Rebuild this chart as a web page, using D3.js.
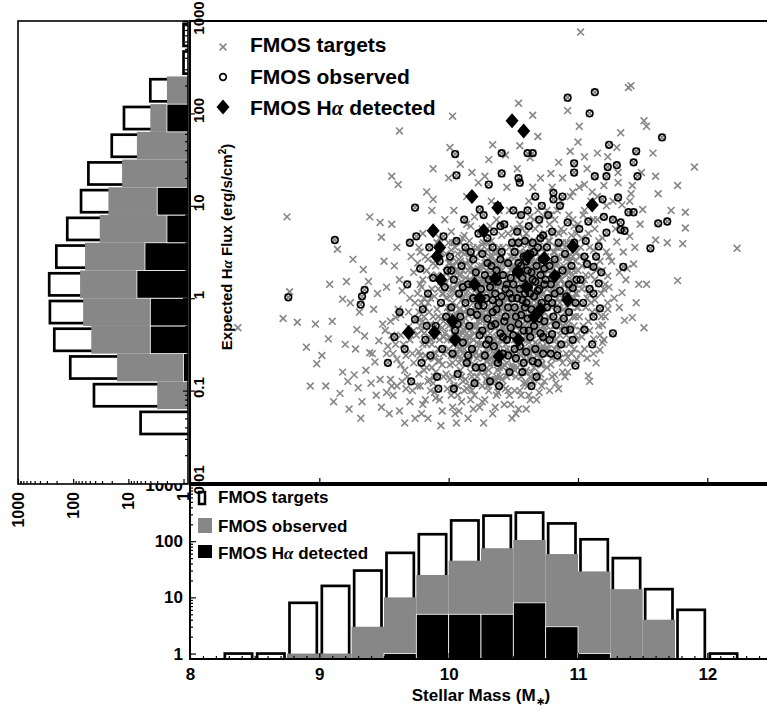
<!DOCTYPE html>
<html>
<head>
<meta charset="utf-8">
<script src="https://cdn.jsdelivr.net/npm/d3@7"></script>
<style>
  body { margin: 0; background: #fff; }
  svg { display: block; }
  text { font-family: "Liberation Sans", Arial, sans-serif; font-weight: bold; fill: #000; }
</style>
</head>
<body>
<svg id="chart" width="767" height="711"></svg>
<script>

// histogram along stellar mass (bottom panel)
var massBinEdges  = [8.25, 8.5, 8.75, 9.0, 9.25, 9.5, 9.75, 10.0, 10.25, 10.5, 10.75, 11.0, 11.25, 11.5, 11.75, 12.0, 12.25];
var massTargets   = [1, 1, 8, 16, 30, 62, 133, 234, 285, 323, 207, 108, 50, 14, 6, 1];
var massObserved  = [0, 0, 1, 1, 3, 10, 25, 45, 75, 105, 59, 29, 14, 4, 0, 0];
var massDetected  = [0, 0, 0, 0, 0, 1, 5, 5, 5, 8, 3, 1, 0, 0, 0, 0];

// histogram along expected flux (left panel), bin edges in log10 flux
var fluxBinEdges  = [-1.5, -1.2, -0.9, -0.6, -0.3, 0.0, 0.3, 0.6, 0.9, 1.2, 1.5, 1.8, 2.1, 2.4, 2.7, 3.0];
var fluxTargets   = [6, 42, 113, 220, 264, 272, 202, 128, 72, 53, 20, 12, 4, 1, 1];
var fluxObserved  = [0, 3, 16, 47, 66, 75, 61, 33, 23, 13, 7, 4, 2, 0, 0];
var fluxDetected  = [0, 0, 1, 4, 4, 7, 5, 2, 3, 0, 0, 2, 0, 0, 0];

var massTicks      = [8, 9, 10, 11, 12];
var fluxTicks      = [0.01, 0.1, 1, 10, 100, 1000];
var fluxTickLabels = ["0.01", "0.1", "1", "10", "100", "1000"];
var countTicks     = [1, 10, 100, 1000];

// scatter: [stellar mass, log10 expected flux]
var targetPoints = [
[11.02,2.88],[11.39,2.28],[11.41,2.30],[10.92,2.03],[11.51,1.92],[11.53,1.86],[11.01,1.86],[11.33,1.79],[11.00,1.69],[11.58,1.57],
[11.90,1.42],[11.30,1.63],[10.94,1.59],[11.15,1.57],[11.23,1.53],[11.05,1.53],[10.85,1.47],[11.31,1.36],[11.60,1.32],[11.49,1.36],
[11.77,1.22],[11.62,1.13],[11.41,1.13],[11.31,1.25],[11.42,1.22],[11.83,0.93],[11.83,0.76],[11.50,0.96],[11.81,0.59],[11.69,0.60],
[11.60,0.63],[12.23,0.54],[11.40,0.67],[11.30,0.61],[11.05,1.23],[10.94,1.10],[11.12,0.85],[11.40,1.05],[11.34,1.01],
[11.77,0.19],[11.53,0.15],[11.37,0.20],[11.43,0.37],[11.34,0.06],[11.23,0.24],[11.51,-0.32],[11.36,-0.24],[11.42,-0.21],[11.17,-0.56],
[11.08,-0.84],[10.99,-0.66],[10.82,-0.83],[10.81,-0.62],[10.92,-0.64],[11.19,-0.48],[11.12,-0.44],[11.23,-0.12],[11.19,-0.29],[11.03,-0.42],
[10.94,-0.48],[10.85,-0.55],
[10.54,2.11],[10.65,1.98],[10.03,1.97],[9.62,1.81],[10.01,1.63],[10.34,1.66],[9.88,1.40],[9.56,1.32],[9.61,1.23],[9.39,0.88],
[9.47,0.82],[9.56,0.80],[9.14,0.53],[9.48,0.66],[9.88,1.07],[10.00,1.30],[10.18,1.36],[9.34,0.31],[9.21,0.18],[9.18,-0.01],
[8.97,-0.28],[9.10,-0.25],[9.07,-0.44],[8.90,-0.53],[8.98,-0.71],[9.18,-0.80],[9.31,-0.15],[9.29,-0.34],[9.39,-0.59],[9.43,-0.69],
[8.75,0.88],[8.37,-0.32],[8.72,-0.22],[8.77,0.07],[8.83,-0.26],[8.93,-0.95],
[9.05,-0.95],[9.11,-1.12],[9.16,-1.03],[9.22,-0.9],[9.02,-0.62],[9.2,-0.5],[9.24,-0.05],[9.08,0.15],[9.23,-1.2],
[9.27,-0.83],[9.3,-0.97],[9.33,-1.12],[9.36,-0.78],[9.4,-0.92],[9.44,-1.05],[9.46,-0.46],[9.49,-0.28],[9.28,-0.55],[9.35,-0.41],
[9.42,-0.12],[9.45,0.05],[9.38,0.18],[9.26,0.42],[9.47,-0.88],[9.32,-1.3],[9.41,-0.6],[9.48,-1.18],
[9.51,-0.35],[9.53,-0.52],[9.55,-0.88],[9.57,-1.05],[9.59,-0.21],[9.6,-0.66],[9.62,-1.22],[9.63,-0.4],[9.64,0.08],[9.66,-0.78],
[9.67,-0.98],[9.69,-0.31],[9.7,-1.12],[9.72,-0.6],[9.73,0.28],[9.74,-0.05],[9.52,0.12],[9.54,-1.25],[9.58,0.35],[9.61,-0.12],
[9.65,-0.5],[9.68,-0.85],[9.71,0.45],[9.74,-1.3],[9.56,-0.95],[9.6,0.55],[9.63,-0.72],[9.66,-1.35],[9.7,-0.45],[9.73,-0.7],
[9.52,-1.02],[9.57,-0.6],[9.62,0.2],[9.69,-0.15],[9.72,-1.0],[9.55,-0.25],[9.64,-0.9],[9.5,0.4],
[9.52,-0.6],[9.56,-0.4],[9.6,-0.95],[9.63,-0.18],[9.67,-0.62],[9.7,0.0],[9.73,-0.35],[9.59,-0.5],
[9.76,-0.22],[9.77,-0.58],[9.78,-0.95],[9.79,0.12],[9.8,-1.15],[9.81,-0.38],[9.82,0.45],[9.83,-0.75],[9.84,-1.3],[9.85,-0.15],
[9.86,0.25],[9.87,-0.5],[9.88,-0.92],[9.89,0.02],[9.9,-1.08],[9.91,0.6],[9.92,-0.35],[9.93,-0.68],[9.94,0.18],[9.95,-1.22],
[9.96,-0.25],[9.97,0.85],[9.98,-0.82],[9.99,-0.45],[9.76,0.38],[9.78,-0.3],[9.8,0.7],[9.82,-0.62],[9.84,-0.05],[9.86,-1.0],
[9.88,-0.2],[9.9,0.35],[9.92,-0.55],[9.94,-1.38],[9.96,0.05],[9.98,0.48],[9.77,-0.82],[9.79,-1.25],[9.81,0.0],[9.83,0.3],
[9.85,-0.42],[9.87,0.95],[9.89,-0.65],[9.91,-0.12],[9.93,-1.1],[9.95,0.22],[9.97,-0.38],[9.99,-0.98],[9.78,0.15],[9.8,-0.5],
[9.83,1.15],[9.86,-0.28],[9.89,-0.85],[9.92,0.1],[9.95,-0.72],[9.98,0.28],[9.77,0.55],[9.84,-0.9],[9.9,-0.42],[9.96,-0.6],
[9.81,-0.2],[9.93,0.65],
[9.75,-0.4],[9.76,0.05],[9.77,-0.15],[9.78,-0.62],[9.79,-0.35],[9.8,0.2],[9.81,-0.78],[9.82,-0.1],[9.83,-0.5],[9.84,0.42],
[9.85,-0.88],[9.86,-0.45],[9.87,0.1],[9.88,-0.32],[9.89,-1.02],[9.9,-0.6],[9.91,0.25],[9.92,-0.2],[9.93,-0.45],[9.94,0.5],
[9.95,-0.32],[9.96,-0.85],[9.97,0.15],[9.98,-0.58],[9.99,-0.1],[9.76,-0.95],[9.78,0.5],[9.8,-0.25],[9.82,-1.1],[9.84,-0.65],
[9.86,0.0],[9.88,0.38],[9.9,-0.8],[9.92,-0.68],[9.94,-0.22],[9.96,-0.42],[9.98,0.0],[9.79,-0.05],[9.87,-0.75],[9.95,0.05],
[10.0,-0.15],[10.01,-0.72],[10.01,0.22],[10.02,-1.05],[10.02,0.52],[10.03,-0.32],[10.03,0.08],[10.04,-0.5],[10.04,0.95],[10.05,-1.25],
[10.05,0.3],[10.06,-0.08],[10.06,-0.62],[10.07,0.15],[10.07,-0.95],[10.08,0.42],[10.08,-0.38],[10.09,-0.78],[10.09,0.25],[10.1,-0.02],
[10.1,-1.12],[10.11,0.65],[10.11,-0.25],[10.12,-0.55],[10.12,0.1],[10.13,-0.88],[10.13,0.38],[10.14,-0.12],[10.14,1.1],[10.15,-0.42],
[10.15,-1.3],[10.16,0.2],[10.16,-0.68],[10.17,0.02],[10.17,0.78],[10.18,-0.3],[10.18,-1.0],[10.19,0.55],[10.19,-0.45],[10.2,0.12],
[10.2,-0.2],[10.21,-0.58],[10.21,0.45],[10.22,-0.85],[10.22,0.05],[10.23,-0.35],[10.23,0.32],[10.24,-1.18],[10.24,0.18],[10.0,0.38],
[10.01,-0.42],[10.02,0.72],[10.03,-0.85],[10.04,-0.2],[10.05,0.05],[10.06,0.4],[10.07,-0.52],[10.08,-0.12],[10.09,0.6],[10.1,-0.65],
[10.11,0.0],[10.12,-0.35],[10.13,0.22],[10.14,-0.98],[10.15,0.5],[10.16,-0.15],[10.17,-0.8],[10.18,0.3],[10.19,-0.05],[10.2,0.88],
[10.21,-0.3],[10.22,0.25],[10.23,-0.62],[10.24,0.5],[10.0,-0.55],[10.02,0.1],[10.04,0.35],[10.06,-0.3],[10.08,-0.7],[10.1,0.18],
[10.12,0.48],[10.14,-0.45],[10.16,0.62],[10.18,-0.58],[10.2,-1.05],[10.22,-0.48],[10.24,-0.22],[10.01,0.02],[10.03,-1.18],[10.05,-0.48],
[10.07,0.28],[10.09,-0.3],[10.11,-0.9],[10.13,-0.22],[10.15,0.08],[10.17,0.35],[10.19,-1.2],[10.21,0.1],[10.23,1.25],[10.03,0.6],
[10.09,1.45],[10.14,0.8],[10.2,-0.38],[10.06,-1.35],[10.16,-0.95],
[10.0,-0.3],[10.0,0.12],[10.01,-0.88],[10.01,-0.1],[10.02,-0.45],[10.02,0.35],[10.03,-0.2],[10.03,-0.7],[10.04,0.1],[10.04,-0.38],
[10.05,-0.6],[10.05,0.55],[10.06,-0.18],[10.06,0.15],[10.07,-0.4],[10.07,-1.05],[10.08,0.25],[10.08,-0.55],[10.09,-0.12],[10.09,0.4],
[10.1,-0.45],[10.1,-0.85],[10.11,0.3],[10.11,-0.6],[10.12,-0.15],[10.12,-1.0],[10.13,0.05],[10.13,-0.48],[10.14,0.15],[10.14,-0.3],
[10.15,-0.7],[10.15,0.3],[10.16,-0.02],[10.16,-0.5],[10.17,0.2],[10.17,-1.1],[10.18,-0.15],[10.18,0.48],[10.19,-0.62],[10.19,-0.3],
[10.2,0.3],[10.2,-0.72],[10.21,-0.12],[10.21,-0.92],[10.22,0.55],[10.22,-0.3],[10.23,0.1],[10.23,-0.5],[10.24,-0.8],[10.24,0.35],
[10.0,0.6],[10.02,-0.62],[10.04,-0.95],[10.06,0.3],[10.08,0.02],[10.1,-0.28],[10.12,0.68],[10.14,-0.65],[10.16,-0.35],[10.18,-0.85],
[10.2,0.02],[10.22,-0.65],[10.24,-0.05],[10.01,0.38],[10.03,-0.05],[10.05,-0.2],[10.07,0.48],[10.09,-0.55],[10.11,-0.38],[10.13,-0.72],
[10.15,-0.18],[10.17,-0.42],[10.19,0.15],[10.21,0.22],[10.23,-0.25],[10.04,-0.62],[10.1,0.5],[10.16,0.4],[10.2,-0.55],[10.08,-1.22],
[10.25,-0.5],[10.25,0.3],[10.26,-0.95],[10.26,0.12],[10.27,-0.2],[10.27,0.6],[10.28,-1.1],[10.28,-0.38],[10.29,0.18],[10.29,-0.68],
[10.3,0.02],[10.3,-0.85],[10.31,0.42],[10.31,-0.15],[10.32,-0.55],[10.32,0.28],[10.33,1.05],[10.33,-0.3],[10.34,-1.25],[10.34,0.1],
[10.35,-0.08],[10.35,0.5],[10.36,-0.7],[10.36,0.22],[10.37,-0.42],[10.37,0.85],[10.38,-0.02],[10.38,-1.02],[10.39,0.35],[10.39,-0.25],
[10.4,-0.6],[10.4,0.15],[10.41,-0.88],[10.41,0.68],[10.42,0.0],[10.42,-0.32],[10.43,0.4],[10.43,-1.15],[10.44,-0.5],[10.44,0.25],
[10.45,-0.12],[10.45,1.2],[10.46,0.05],[10.46,-0.8],[10.47,0.55],[10.47,-0.35],[10.48,-0.58],[10.48,0.3],[10.49,-0.18],[10.49,-1.3],
[10.25,-0.1],[10.26,0.75],[10.27,-0.6],[10.28,0.38],[10.29,-0.32],[10.3,0.52],[10.31,-1.0],[10.32,0.05],[10.33,0.62],[10.34,-0.45],
[10.35,-0.9],[10.36,0.4],[10.37,0.08],[10.38,-0.55],[10.39,0.95],[10.4,-0.15],[10.41,-0.4],[10.42,0.55],[10.43,-0.72],[10.44,0.02],
[10.45,0.38],[10.46,-0.25],[10.47,-1.05],[10.48,0.12],[10.49,0.45],[10.25,0.52],[10.27,0.2],[10.29,-0.88],[10.31,0.05],[10.33,-0.65],
[10.35,0.28],[10.37,-0.22],[10.39,-0.75],[10.41,0.25],[10.43,0.12],[10.45,-0.38],[10.47,0.2],[10.49,-0.62],[10.26,-0.25],[10.28,1.32],
[10.3,-0.45],[10.32,0.78],[10.34,0.3],[10.36,-1.18],[10.38,0.5],[10.4,0.32],[10.42,-0.95],[10.44,-0.3],[10.46,0.7],[10.48,-0.05],
[10.27,-1.35],[10.31,1.5],[10.35,-0.3],[10.39,0.12],[10.43,-0.45],[10.47,0.95],[10.29,0.4],[10.37,-0.85],[10.45,-0.7],[10.33,0.15],
[10.41,-0.05],[10.49,0.2],[10.26,0.35],[10.44,1.55],
[10.25,-0.35],[10.25,-0.75],[10.25,0.2],[10.26,-0.15],[10.26,0.58],[10.26,-0.5],[10.27,0.05],[10.27,-0.4],[10.28,-0.8],[10.28,0.15],
[10.28,-0.2],[10.29,0.3],[10.29,-0.55],[10.29,-0.05],[10.3,-0.3],[10.3,0.2],[10.3,-0.95],[10.31,-0.62],[10.31,0.1],[10.31,-0.28],
[10.32,0.45],[10.32,-0.18],[10.32,-0.72],[10.33,-0.05],[10.33,0.22],[10.33,-0.48],[10.34,-0.7],[10.34,0.45],[10.34,-0.3],[10.35,0.1],
[10.35,-0.6],[10.35,-0.15],[10.36,0.32],[10.36,-0.45],[10.36,-0.88],[10.37,-0.25],[10.37,0.18],[10.37,-0.62],[10.38,0.28],[10.38,-0.35],
[10.38,-0.12],[10.39,-0.5],[10.39,0.55],[10.39,0.0],[10.4,-0.28],[10.4,-0.85],[10.4,0.05],[10.41,0.15],[10.41,-0.65],[10.41,-0.2],
[10.42,0.38],[10.42,-0.1],[10.42,-0.75],[10.43,-0.35],[10.43,0.25],[10.43,-0.58],[10.44,0.4],[10.44,-0.15],[10.44,-0.98],[10.45,0.0],
[10.45,-0.55],[10.45,0.25],[10.46,-0.4],[10.46,0.18],[10.46,-1.0],[10.47,-0.2],[10.47,0.38],[10.47,-0.6],[10.48,-0.25],[10.48,0.45],
[10.48,-0.82],[10.49,0.08],[10.49,-0.42],[10.49,0.32],[10.26,-1.12],[10.28,0.5],[10.3,-0.12],[10.32,-0.38],[10.34,-0.92],[10.36,-0.05],
[10.38,-0.78],[10.4,0.45],[10.42,-0.45],[10.44,-0.6],[10.46,-0.18],[10.48,-1.15],[10.27,-0.65],[10.29,0.6],[10.31,-0.78],[10.33,-0.88],
[10.35,0.38],[10.37,-1.05],[10.39,-0.28],[10.41,0.3],[10.43,-0.05],[10.45,-0.85],[10.47,0.0],[10.49,-0.72],[10.3,-0.68],[10.4,-0.45],
[10.5,-0.75],[10.5,0.35],[10.51,-1.0],[10.51,0.2],[10.52,-0.3],[10.52,0.62],[10.53,-0.5],[10.53,0.12],[10.54,-1.2],[10.54,0.05],
[10.55,-0.15],[10.55,0.8],[10.56,-0.62],[10.56,0.28],[10.57,-0.38],[10.57,0.48],[10.58,0.0],[10.58,-0.92],[10.59,0.38],[10.59,-0.25],
[10.6,0.7],[10.6,-0.78],[10.61,0.1],[10.61,-0.45],[10.62,-0.12],[10.62,1.05],[10.63,0.25],[10.63,-1.1],[10.64,-0.55],[10.64,0.52],
[10.65,-0.2],[10.65,0.08],[10.66,0.85],[10.66,-0.88],[10.67,0.3],[10.67,-0.35],[10.68,-0.05],[10.68,0.6],[10.69,-0.5],[10.69,0.2],
[10.7,-1.02],[10.7,0.45],[10.71,-0.15],[10.71,0.02],[10.72,-0.72],[10.72,0.32],[10.73,0.15],[10.73,-0.3],[10.74,0.88],[10.74,-0.55],
[10.5,-0.15],[10.51,0.72],[10.52,-0.85],[10.53,0.4],[10.54,-0.45],[10.55,0.32],[10.56,-1.05],[10.57,0.1],[10.58,0.65],[10.59,-0.6],
[10.6,0.18],[10.61,-0.95],[10.62,0.42],[10.63,-0.28],[10.64,0.0],[10.65,1.2],[10.66,-0.1],[10.67,-0.7],[10.68,0.12],[10.69,0.95],
[10.7,-0.35],[10.71,-0.82],[10.72,0.55],[10.73,-0.1],[10.74,0.25],[10.5,0.55],[10.52,0.05],[10.54,0.25],[10.56,-0.3],[10.58,-0.2],
[10.6,-0.4],[10.62,-0.65],[10.64,-0.8],[10.66,0.38],[10.68,-0.25],[10.7,0.28],[10.72,-0.45],[10.74,-0.9],[10.51,-0.3],[10.53,1.4],
[10.55,-0.72],[10.57,0.75],[10.59,0.15],[10.61,0.58],[10.63,0.88],[10.65,-0.45],[10.67,0.52],[10.69,-0.3],[10.71,1.3],[10.73,0.4],
[10.52,-1.25],[10.56,0.05],[10.6,-1.2],[10.64,0.18],[10.68,-1.1],[10.72,0.08],[10.54,0.9],[10.58,0.22],[10.62,-0.02],[10.66,-0.55],
[10.7,0.62],[10.74,-0.15],[10.55,1.65],[10.63,1.52],[10.69,1.75],[10.6,0.3],[10.67,0.0],
[10.5,-0.25],[10.5,0.05],[10.5,-0.6],[10.51,0.35],[10.51,-0.45],[10.51,0.0],[10.52,-0.12],[10.52,0.45],[10.52,-0.5],[10.53,-0.3],
[10.53,0.22],[10.53,-0.75],[10.54,0.12],[10.54,-0.6],[10.54,-0.12],[10.55,0.5],[10.55,-0.35],[10.55,-0.02],[10.56,0.15],[10.56,-0.48],
[10.56,-0.85],[10.57,-0.2],[10.57,0.32],[10.57,-0.6],[10.58,0.1],[10.58,-0.45],[10.58,0.38],[10.59,-0.3],[10.59,-0.8],[10.59,0.25],
[10.6,0.05],[10.6,-0.2],[10.6,0.5],[10.61,-0.68],[10.61,0.18],[10.61,-0.1],[10.62,0.3],[10.62,-0.48],[10.62,-0.25],[10.63,0.12],
[10.63,-0.6],[10.63,0.38],[10.64,-0.35],[10.64,0.4],[10.64,-0.05],[10.65,-0.58],[10.65,0.32],[10.65,-0.9],[10.66,0.15],[10.66,-0.22],
[10.66,0.62],[10.67,-0.12],[10.67,-0.48],[10.67,0.4],[10.68,0.25],[10.68,-0.62],[10.68,-0.38],[10.69,0.0],[10.69,0.35],[10.69,-0.85],
[10.7,-0.1],[10.7,0.15],[10.7,-0.58],[10.71,0.45],[10.71,-0.28],[10.71,-0.55],[10.72,0.2],[10.72,-0.2],[10.72,-0.95],[10.73,0.55],
[10.73,-0.52],[10.73,0.05],[10.74,-0.4],[10.74,0.5],[10.74,-0.02],[10.51,-0.78],[10.53,0.6],[10.55,-1.0],[10.57,-0.1],[10.59,0.48],
[10.61,-0.38],[10.63,-0.85],[10.65,0.05],[10.67,0.75],[10.69,-0.2],[10.71,-0.72],[10.73,0.3],[10.5,0.75],[10.52,-0.4],[10.54,0.72],
[10.56,0.58],[10.58,-0.65],[10.6,-0.92],[10.62,0.6],[10.64,0.2],[10.66,-0.75],[10.68,0.48],[10.7,0.35],[10.72,-0.65],[10.74,0.7],
[10.55,0.2],[10.6,-0.55],[10.65,-0.35],[10.7,0.8],[10.62,-1.05],
[10.75,-0.35],[10.75,0.45],[10.76,-0.75],[10.76,0.1],[10.77,0.3],[10.77,-0.2],[10.78,-1.0],[10.78,0.62],[10.79,-0.42],[10.79,0.05],
[10.8,0.25],[10.8,-0.65],[10.81,0.5],[10.81,-0.05],[10.82,0.85],[10.82,-0.3],[10.83,0.12],[10.83,-0.92],[10.84,0.38],[10.84,0.0],
[10.85,-0.25],[10.85,0.7],[10.86,-0.4],[10.86,0.22],[10.87,0.05],[10.87,1.05],[10.88,-0.7],[10.88,0.45],[10.89,0.15],[10.89,-0.12],
[10.9,0.32],[10.9,-0.85],[10.91,0.6],[10.91,-0.4],[10.92,0.1],[10.93,-0.25],[10.93,0.9],[10.94,0.4],[10.95,-0.05],[10.95,-0.6],
[10.96,0.25],[10.97,-0.3],[10.97,0.78],[10.98,0.05],[10.99,-0.45],[10.99,0.5],[10.76,0.95],[10.78,-0.08],[10.8,1.2],[10.82,0.2],
[10.84,-0.5],[10.86,0.55],[10.88,-0.3],[10.9,0.0],[10.92,-0.8],[10.94,0.18],[10.96,1.15],[10.98,-0.2],[10.77,-0.55],[10.81,0.32],
[10.85,-0.98],[10.89,0.72],[10.93,0.3],[10.97,0.0],[10.79,1.35],[10.83,0.55],[10.87,-0.2],[10.91,0.25],[10.95,0.68],[10.99,-0.1],
[10.8,-0.25],[10.88,1.3],[10.96,-0.2],[10.84,0.95],[10.92,0.45],
[10.75,0.0],[10.75,-0.55],[10.76,0.3],[10.76,-0.3],[10.77,0.15],[10.77,0.62],[10.78,-0.22],[10.78,0.2],[10.79,-0.72],[10.79,0.4],
[10.8,0.05],[10.8,-0.42],[10.81,0.7],[10.81,-0.3],[10.82,-0.05],[10.82,0.5],[10.83,-0.45],[10.83,0.35],[10.84,0.15],[10.84,-0.25],
[10.85,0.45],[10.85,-0.1],[10.86,-0.65],[10.86,0.32],[10.87,0.2],[10.87,-0.35],[10.88,0.0],[10.88,0.6],[10.89,-0.5],[10.89,0.35],
[10.9,-0.15],[10.9,0.15],[10.91,-0.6],[10.91,0.42],[10.92,-0.3],[10.92,0.28],[10.93,0.05],[10.93,-0.5],[10.94,0.6],[10.94,-0.15],
[10.95,0.2],[10.95,-0.35],[10.96,0.45],[10.96,-0.05],[10.97,-0.55],[10.97,0.3],[10.98,0.15],[10.98,-0.4],[10.99,0.05],[10.99,0.7],
[10.76,-0.48],[10.78,0.8],[10.8,-0.85],[10.82,-0.55],[10.84,0.55],[10.86,-0.05],[10.88,-0.8],[10.9,0.55],[10.92,-0.1],[10.94,-0.7],
[10.96,0.85],[10.98,0.4],[10.77,-0.05],[10.81,0.12],[10.85,0.25],[10.89,-0.3],[10.93,0.45],[10.97,0.12],[10.79,0.9],[10.87,0.75],
[11.0,0.3],[11.01,-0.2],[11.02,0.55],[11.02,-0.6],[11.03,0.1],[11.04,0.9],[11.04,-0.3],[11.05,0.2],[11.06,-0.1],[11.06,0.42],
[11.07,-0.65],[11.08,0.05],[11.08,0.7],[11.09,-0.35],[11.1,0.25],[11.1,1.05],[11.11,-0.15],[11.12,0.52],[11.13,-0.02],[11.14,-0.7],
[11.14,0.3],[11.15,0.85],[11.16,-0.3],[11.17,0.4],[11.18,0.05],[11.19,0.65],[11.2,-0.45],[11.21,0.15],[11.22,1.0],[11.23,-0.05],
[11.24,0.45],[11.01,1.2],[11.07,1.4],[11.11,1.15],[11.03,0.35],[11.13,0.75],[11.18,-0.2],[11.24,0.12],[11.09,-0.9],[11.2,1.22],
[11.0,-0.1],[11.01,0.45],[11.02,-0.35],[11.03,0.65],[11.04,0.15],[11.05,-0.55],[11.06,0.25],[11.07,0.0],[11.08,-0.25],[11.09,0.55],
[11.1,-0.05],[11.11,0.35],[11.12,-0.6],[11.13,0.2],[11.15,-0.15],[11.16,0.62],[11.17,-0.4],[11.19,0.3],[11.21,-0.2],[11.22,0.5],
[11.0,0.8],[11.05,0.95],[11.15,1.1],[11.2,0.1],
[11.26,0.4],[11.28,0.0],[11.29,0.75],[11.32,-0.1],[11.35,0.5],[11.38,0.32],[11.44,0.55],[11.47,0.15],[11.27,1.05],[11.45,-0.05],
[11.32,0.28],[11.48,0.8],[11.72,0.95]
];

var observedPoints = [
[10.92,2.17],[11.13,2.23],[11.09,2.00],[11.65,1.74],[11.24,1.66],[11.45,1.59],[10.97,1.46],[11.23,1.42],[11.30,1.44],[11.43,1.47],
[10.97,1.36],[11.13,1.32],[11.22,1.32],[11.46,1.32],[11.19,1.07],[11.31,1.09],[11.20,0.88],[11.27,0.85],[11.33,0.82],[11.39,0.93],
[11.43,0.93],[11.62,0.81],[11.69,0.83],[11.33,0.74],[11.36,0.73],[11.08,0.83],[11.22,0.71],[11.56,0.54],[11.16,0.56],[11.05,0.45],
[10.81,1.14],[10.88,1.10],[10.81,1.07],
[11.35,0.34],[11.16,0.16],[11.12,0.05],[11.17,-0.11],[11.12,-0.20],[11.27,-0.38],[11.05,-0.34],[10.94,-0.34],[10.83,-0.29],[10.98,-0.73],
[10.96,0.11],[10.82,0.05],[10.81,-0.20],[10.80,-0.39],[11.07,0.37],[11.12,0.34],
[10.41,1.57],[10.61,1.57],[10.65,1.57],[10.54,1.30],[10.41,1.35],[10.31,1.23],[10.06,1.33],[10.05,1.56],[9.74,0.98],[9.12,0.63],
[9.70,0.60],[9.75,0.67],[10.24,0.96],[10.40,0.78],[9.96,0.67],[9.35,0.09],[9.33,0.02],[9.32,-0.07],[9.62,-0.15],[9.74,-0.23],[8.76,0.01],
[9.58,-0.42],[9.66,-0.55],[9.71,-0.9],[9.53,-0.7],[9.68,0.15],
[9.78,0.32],[9.8,-0.12],[9.82,-0.45],[9.84,0.05],[9.86,-0.62],[9.88,0.22],[9.9,-0.3],[9.91,-0.85],[9.93,0.4],[9.94,-0.05],
[9.95,-0.55],[9.97,0.12],[9.98,-0.2],[9.79,-0.7],[9.85,0.55],[9.92,-0.98],[9.99,0.3],[9.83,-0.3],
[10.01,0.45],[10.02,-0.1],[10.03,-0.6],[10.04,0.2],[10.05,-0.35],[10.06,0.62],[10.07,-0.82],[10.08,0.05],[10.09,-0.2],[10.1,0.35],
[10.11,-0.48],[10.12,0.85],[10.13,-0.05],[10.14,-0.7],[10.15,0.15],[10.16,-0.3],[10.17,0.5],[10.18,-0.55],[10.19,0.0],[10.2,-0.92],
[10.21,0.28],[10.22,-0.18],[10.23,0.7],[10.24,-0.4],[10.02,0.3],[10.07,-0.28],[10.11,0.12],[10.15,-0.62],[10.19,0.42],[10.23,-0.08],
[10.04,-0.98],[10.13,0.55],[10.17,-0.15],[10.21,-0.75],
[10.25,0.1],[10.26,-0.35],[10.26,0.48],[10.27,-0.08],[10.28,-0.62],[10.28,0.25],[10.29,0.0],[10.3,-0.22],[10.3,0.65],[10.31,-0.45],
[10.32,0.12],[10.32,-0.9],[10.33,0.35],[10.34,-0.15],[10.34,0.55],[10.35,-0.52],[10.36,0.05],[10.36,-0.28],[10.37,0.3],[10.38,-0.7],
[10.38,0.18],[10.39,-0.05],[10.4,0.42],[10.4,-0.38],[10.41,0.02],[10.42,-0.6],[10.42,0.25],[10.43,0.8],[10.44,-0.2],[10.44,0.1],
[10.45,-0.45],[10.46,0.38],[10.46,-0.1],[10.47,-0.8],[10.48,0.22],[10.48,-0.32],[10.49,0.6],[10.49,0.0],[10.27,0.9],[10.29,-0.5],
[10.31,0.2],[10.33,-0.3],[10.35,0.72],[10.37,-0.12],[10.39,-0.95],[10.41,0.5],[10.43,-0.25],[10.45,0.15],[10.47,0.05],[10.26,-0.75],
[10.3,0.38],[10.34,-0.02],[10.38,1.0],[10.42,-0.42],[10.46,-0.62],
[10.5,0.15],[10.5,-0.4],[10.51,0.5],[10.51,-0.1],[10.52,0.28],[10.52,-0.65],[10.53,0.0],[10.53,0.72],[10.54,-0.28],[10.54,0.38],
[10.55,-0.52],[10.55,0.1],[10.56,0.9],[10.56,-0.18],[10.57,0.22],[10.57,-0.8],[10.58,0.45],[10.58,-0.35],[10.59,0.05],[10.59,0.62],
[10.6,-0.05],[10.6,-0.58],[10.61,0.3],[10.61,-0.22],[10.62,0.78],[10.62,0.12],[10.63,-0.42],[10.63,0.48],[10.64,-0.12],[10.64,-0.95],
[10.65,0.2],[10.65,0.6],[10.66,-0.3],[10.66,0.02],[10.67,1.1],[10.67,-0.55],[10.68,0.35],[10.68,-0.15],[10.69,0.55],[10.69,-0.7],
[10.7,0.1],[10.7,0.85],[10.71,-0.38],[10.71,0.25],[10.72,-0.05],[10.72,0.42],[10.73,-0.6],[10.73,0.68],[10.74,0.15],[10.74,-0.25],
[10.5,0.95],[10.52,-0.2],[10.54,0.6],[10.56,0.35],[10.58,-0.7],[10.6,0.4],[10.62,-0.35],[10.64,0.28],[10.66,0.5],[10.68,-0.85],
[10.7,-0.22],[10.72,1.0],[10.74,0.32],[10.51,-0.55],[10.55,1.25],[10.59,-0.1],[10.63,0.05],[10.67,0.18],[10.71,0.65],[10.53,0.3],
[10.57,-0.02],[10.61,0.95],[10.65,-0.68],[10.69,0.08],[10.73,-0.42],
[10.75,0.2],[10.76,-0.1],[10.76,0.55],[10.77,0.0],[10.78,0.35],[10.78,-0.45],[10.79,0.15],[10.8,0.72],[10.8,-0.05],[10.82,0.42],
[10.83,0.25],[10.84,-0.12],[10.85,0.6],[10.86,0.08],[10.87,-0.5],[10.88,0.3],[10.89,-0.22],[10.9,0.48],[10.91,0.02],[10.92,0.82],
[10.93,-0.15],[10.95,0.35],[10.96,-0.45],[10.97,0.6],[10.99,0.2],[10.77,0.9],[10.84,-0.62],[10.9,-0.35],[10.86,1.0],[10.79,-0.6],
[10.93,0.15],[10.98,-0.05],
[11.02,0.2],[11.04,-0.05],[11.06,0.62],[11.09,0.1],[11.11,-0.5],[11.14,0.45],[11.18,0.28],[11.01,0.75]
];

var detectedPoints = [
[10.49,1.92],[10.58,1.81],[10.18,1.10],[10.38,0.98],[11.11,1.01],[9.88,0.73],[10.27,0.73],[9.93,0.55],[9.91,0.45],[10.96,0.56],
[10.61,0.45],[10.74,0.43],[10.82,0.24],[9.94,0.20],[10.20,0.15],[10.36,0.21],[10.54,0.28],[10.24,0.0],[10.92,-0.02],[10.71,-0.12],
[10.03,-0.25],[9.69,-0.37],[9.89,-0.37],[10.05,-0.45],[10.54,-0.45],[10.39,-0.63],[10.6,0.12],[10.66,-0.2]
];

var GRAY = "#878787";
var CROSS = "M-3.4,-3.4L3.4,3.4M-3.4,3.4L3.4,-3.4";
var DIAMOND = "M0,-7.5L6.5,0L0,7.5L-6.5,0Z";

var svg = d3.select("#chart");

var x      = d3.scaleLinear().domain([8, 12.5]).range([190, 772]);
var yFlux  = d3.scaleLog().domain([0.01, 1000]).range([483, 21]);
var yCount = d3.scaleLog().domain([0.8, 1000]).range([659, 485]);
var xCount = d3.scaleLog().domain([1000, 0.83]).range([18, 188]);

function pow10 (v) { return Math.pow(10, v); }

function bins (edges, counts) {
    return counts
        .map(function (n, i) { return {lo: edges[i], hi: edges[i + 1], n: n}; })
        .filter(function (b) { return b.n > 0; });
}

function logMinors (from, to) {
    var out = [];
    for (var e = from; e < to; e++)
        for (var k = 2; k < 10; k++) out.push(k * Math.pow(10, e));
    return out;
}

function tidy (g, size) {
    g.select(".domain").remove();
    g.selectAll("line").attr("stroke", "#000").attr("stroke-width", 1.2);
    g.selectAll("text").attr("font-size", size);
    return g;
}

var defs = svg.append("defs");

function clip (id, x0, y0, w, h) {
    defs.append("clipPath").attr("id", id)
        .append("rect").attr("x", x0).attr("y", y0).attr("width", w).attr("height", h);
}

clip("clip-bottom",  190, 485, 600, 174);
clip("clip-scatter", 190, 21,  600, 462);
clip("clip-left",    18,  21,  170, 463);

/* ---------- bottom: mass histogram ---------- */

var bottom = svg.append("g");
var bars = bottom.append("g").attr("clip-path", "url(#clip-bottom)");

bars.selectAll("rect.target")
    .data(bins(massBinEdges, massTargets))
    .enter()
    .append("rect")
    .attr("class", "target")
    .attr("x", function (d) { return x(d.lo) + 2.5; })
    .attr("width", function (d) { return x(d.hi) - x(d.lo) - 5; })
    .attr("y", function (d) { return yCount(d.n); })
    .attr("height", function (d) { return 700 - yCount(d.n); })
    .attr("fill", "#fff")
    .attr("stroke", "#000")
    .attr("stroke-width", 2.7);

bars.selectAll("rect.observed")
    .data(bins(massBinEdges, massObserved))
    .enter()
    .append("rect")
    .attr("class", "observed")
    .attr("x", function (d) { return x(d.lo); })
    .attr("width", function (d) { return x(d.hi) - x(d.lo); })
    .attr("y", function (d) { return yCount(d.n); })
    .attr("height", function (d) { return 700 - yCount(d.n); })
    .attr("fill", GRAY);

bars.selectAll("rect.detected")
    .data(bins(massBinEdges, massDetected))
    .enter()
    .append("rect")
    .attr("class", "detected")
    .attr("x", function (d) { return x(d.lo); })
    .attr("width", function (d) { return x(d.hi) - x(d.lo); })
    .attr("y", function (d) { return yCount(d.n); })
    .attr("height", function (d) { return 700 - yCount(d.n); })
    .attr("fill", "#000")
    .attr("stroke", "#fff")
    .attr("stroke-width", 0.8);

tidy(bottom.append("g").attr("transform", "translate(0,659)")
    .call(d3.axisBottom(x).tickValues(massTicks).tickSize(-6).tickPadding(9).tickFormat(d3.format("d"))), 17);

tidy(bottom.append("g").attr("transform", "translate(0,659)")
    .call(d3.axisBottom(x)
        .tickValues(d3.range(81, 125).filter(function (i) { return i % 10; }).map(function (i) { return i / 10; }))
        .tickSize(-3).tickFormat("")), 10);

tidy(bottom.append("g").attr("transform", "translate(190,0)")
    .call(d3.axisLeft(yCount).tickValues(countTicks).tickSize(-6).tickPadding(7).tickFormat(d3.format("d"))), 17);

tidy(bottom.append("g").attr("transform", "translate(190,0)")
    .call(d3.axisLeft(yCount).tickValues(logMinors(0, 3)).tickSize(-3).tickFormat("")), 10);

bottom.append("rect")
    .attr("x", 190).attr("y", 485).attr("width", 600).attr("height", 174)
    .attr("fill", "none").attr("stroke", "#000").attr("stroke-width", 2);

var bl = bottom.append("g");
bl.append("rect").attr("x", 199).attr("y", 492).attr("width", 6).attr("height", 12)
    .attr("fill", "#fff").attr("stroke", "#000").attr("stroke-width", 2.5);
bl.append("rect").attr("x", 198).attr("y", 518).attr("width", 14).attr("height", 15).attr("fill", GRAY);
bl.append("rect").attr("x", 198).attr("y", 545).attr("width", 14).attr("height", 13).attr("fill", "#000");
bl.append("text").attr("x", 218).attr("y", 503).attr("font-size", 17).text("FMOS targets");
bl.append("text").attr("x", 218).attr("y", 532).attr("font-size", 17).text("FMOS observed");
var bld = bl.append("text").attr("x", 218).attr("y", 559).attr("font-size", 17);
bld.append("tspan").text("FMOS H");
bld.append("tspan").attr("font-family", "'Liberation Serif', serif").attr("font-style", "italic").text("α");
bld.append("tspan").text(" detected");

var xl = svg.append("text").attr("x", 481).attr("y", 701).attr("text-anchor", "middle").attr("font-size", 17);
xl.append("tspan").text("Stellar Mass (M");
xl.append("tspan").attr("font-size", 11).attr("dy", 4).text("∗");
xl.append("tspan").attr("dy", -4).text(")");

/* ---------- left: flux histogram ---------- */

var left = svg.append("g");

left.append("rect").attr("x", 18).attr("y", 21).attr("width", 170).attr("height", 463).attr("fill", "#fff");

var lbars = left.append("g").attr("clip-path", "url(#clip-left)");

function fluxTop (d) { return yFlux(pow10(d.hi)); }
function fluxBottom (d) { return yFlux(pow10(d.lo)); }

lbars.selectAll("rect.target")
    .data(bins(fluxBinEdges, fluxTargets))
    .enter()
    .append("rect")
    .attr("class", "target")
    .attr("x", function (d) { return xCount(d.n); })
    .attr("width", function (d) { return 200 - xCount(d.n); })
    .attr("y", function (d) { return fluxTop(d) + 2.8; })
    .attr("height", function (d) { return fluxBottom(d) - fluxTop(d) - 5.6; })
    .attr("fill", "#fff")
    .attr("stroke", "#000")
    .attr("stroke-width", 2.7);

lbars.selectAll("rect.observed")
    .data(bins(fluxBinEdges, fluxObserved))
    .enter()
    .append("rect")
    .attr("class", "observed")
    .attr("x", function (d) { return xCount(d.n); })
    .attr("width", function (d) { return 200 - xCount(d.n); })
    .attr("y", fluxTop)
    .attr("height", function (d) { return fluxBottom(d) - fluxTop(d); })
    .attr("fill", GRAY);

lbars.selectAll("rect.detected")
    .data(bins(fluxBinEdges, fluxDetected))
    .enter()
    .append("rect")
    .attr("class", "detected")
    .attr("x", function (d) { return xCount(d.n); })
    .attr("width", function (d) { return 200 - xCount(d.n); })
    .attr("y", fluxTop)
    .attr("height", function (d) { return fluxBottom(d) - fluxTop(d); })
    .attr("fill", "#000")
    .attr("stroke", "#fff")
    .attr("stroke-width", 0.8);

tidy(left.append("g").attr("transform", "translate(0,484)")
    .call(d3.axisBottom(xCount).tickValues(countTicks).tickSize(-5).tickFormat("")), 10);
tidy(left.append("g").attr("transform", "translate(0,484)")
    .call(d3.axisBottom(xCount).tickValues(logMinors(0, 3).concat([900])).tickSize(-3).tickFormat("")), 10);
tidy(left.append("g").attr("transform", "translate(188,0)")
    .call(d3.axisRight(yFlux).tickValues(fluxTicks).tickSize(-5).tickFormat("")), 10);
tidy(left.append("g").attr("transform", "translate(188,0)")
    .call(d3.axisRight(yFlux).tickValues(logMinors(-2, 3)).tickSize(-3).tickFormat("")), 10);

left.append("rect")
    .attr("x", 18).attr("y", 21).attr("width", 170).attr("height", 463)
    .attr("fill", "none").attr("stroke", "#000").attr("stroke-width", 1.6);

left.selectAll("text.count")
    .data(countTicks)
    .enter()
    .append("text")
    .attr("class", "count")
    .attr("transform", function (d) { return "translate(" + xCount(d) + ",492) rotate(-90)"; })
    .attr("text-anchor", "end")
    .attr("dy", "0.35em")
    .attr("font-size", 16)
    .text(function (d) { return d; });

/* ---------- scatter ---------- */

var scatter = svg.append("g");
var pts = scatter.append("g").attr("clip-path", "url(#clip-scatter)");

function place (d) { return "translate(" + x(d[0]) + "," + yFlux(pow10(d[1])) + ")"; }

pts.selectAll("path.cross")
    .data(targetPoints.concat(observedPoints, detectedPoints))
    .enter()
    .append("path")
    .attr("class", "cross")
    .attr("d", CROSS)
    .attr("transform", place)
    .attr("fill", "none")
    .attr("stroke", GRAY)
    .attr("stroke-width", 1.6);

pts.selectAll("circle.obs")
    .data(observedPoints)
    .enter()
    .append("circle")
    .attr("class", "obs")
    .attr("r", 3.3)
    .attr("transform", place)
    .attr("fill", "none")
    .attr("stroke", "#000")
    .attr("stroke-width", 1.7);

pts.selectAll("path.det")
    .data(detectedPoints)
    .enter()
    .append("path")
    .attr("class", "det")
    .attr("d", DIAMOND)
    .attr("transform", place)
    .attr("fill", "#000");

tidy(scatter.append("g").attr("transform", "translate(190,0)")
    .call(d3.axisLeft(yFlux).tickValues(fluxTicks).tickSize(-5).tickFormat("")), 10);
tidy(scatter.append("g").attr("transform", "translate(0,483)")
    .call(d3.axisBottom(x).tickValues(massTicks).tickSize(-5).tickFormat("")), 10);

scatter.append("rect")
    .attr("x", 190).attr("y", 21).attr("width", 600).attr("height", 462)
    .attr("fill", "none").attr("stroke", "#000").attr("stroke-width", 2);

scatter.selectAll("text.flux")
    .data(fluxTicks)
    .enter()
    .append("text")
    .attr("class", "flux")
    .attr("transform", function (d) { return "translate(199," + (yFlux(d) - 3) + ") rotate(-90)"; })
    .attr("text-anchor", "middle")
    .attr("dy", "0.35em")
    .attr("font-size", 15)
    .text(function (d, i) { return fluxTickLabels[i]; });

var yl = scatter.append("text")
    .attr("transform", "translate(232,247) rotate(-90)")
    .attr("text-anchor", "middle")
    .attr("font-size", 15);
yl.append("tspan").text("Expected H");
yl.append("tspan").attr("font-family", "'Liberation Serif', serif").attr("font-style", "italic").text("α");
yl.append("tspan").text(" Flux (erg/s/cm");
yl.append("tspan").attr("font-size", 10).attr("dy", -6).text("2");
yl.append("tspan").attr("dy", 6).text(")");

var tl = scatter.append("g");
tl.append("path").attr("d", CROSS).attr("transform", "translate(223,47)")
    .attr("fill", "none").attr("stroke", GRAY).attr("stroke-width", 1.6);
tl.append("circle").attr("r", 3.3).attr("transform", "translate(223,77)")
    .attr("fill", "#fff").attr("stroke", "#000").attr("stroke-width", 1.7);
tl.append("path").attr("d", DIAMOND).attr("transform", "translate(223,107)").attr("fill", "#000");
tl.append("text").attr("x", 250).attr("y", 52).attr("font-size", 21).text("FMOS targets");
tl.append("text").attr("x", 250).attr("y", 84).attr("font-size", 21).text("FMOS observed");
var tld = tl.append("text").attr("x", 250).attr("y", 115).attr("font-size", 21);
tld.append("tspan").text("FMOS H");
tld.append("tspan").attr("font-family", "'Liberation Serif', serif").attr("font-style", "italic").text("α");
tld.append("tspan").text(" detected");

</script>
</body>
</html>
